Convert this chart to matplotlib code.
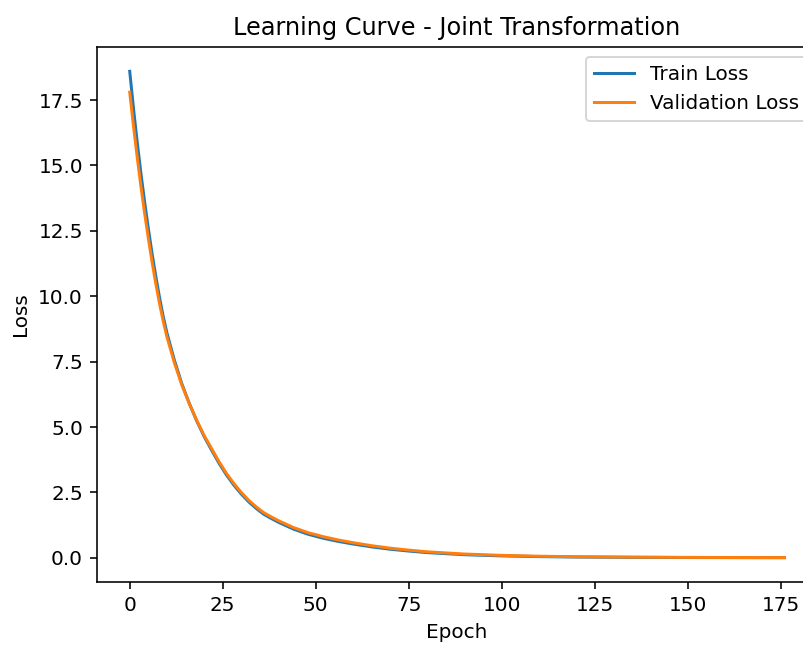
import numpy as np
import matplotlib
matplotlib.use("Agg")
import matplotlib.pyplot as plt

# Loss values (epoch -> loss)
epochs = [0, 1, 2, 3, 4, 5, 6, 7, 8, 9, 10, 12, 14, 16, 18, 20, 22, 24, 26, 28, 30,
          32, 34, 36, 38, 40, 44, 48, 52, 56, 60, 65, 70, 75, 80, 90, 100, 110,
          120, 135, 150, 165, 176]
train_loss = [18.60, 17.20, 15.91, 14.71, 13.61, 12.59, 11.64, 10.77, 9.96, 9.23, 8.60,
              7.56, 6.66, 5.91, 5.24, 4.64, 4.12, 3.62, 3.17, 2.78, 2.44, 2.14,
              1.89, 1.67, 1.51, 1.36, 1.10, 0.90, 0.75, 0.63, 0.53, 0.42, 0.33,
              0.26, 0.20, 0.12, 0.075, 0.047, 0.031, 0.019, 0.012, 0.008, 0.006]
val_loss = [17.80, 16.52, 15.33, 14.21, 13.18, 12.22, 11.32, 10.49, 9.73, 9.05, 8.45,
            7.46, 6.61, 5.90, 5.26, 4.68, 4.18, 3.68, 3.23, 2.84, 2.50, 2.20,
            1.95, 1.73, 1.57, 1.42, 1.16, 0.96, 0.81, 0.685, 0.58, 0.465, 0.37,
            0.295, 0.23, 0.145, 0.095, 0.062, 0.041, 0.027, 0.017, 0.012, 0.010]

dpi = 144
fig = plt.figure(figsize=(803 / dpi, 645 / dpi), dpi=dpi)
# axes run past the right edge, as in the cropped original
ax = fig.add_axes([97 / 803, 1 - 582 / 645, (817 - 97) / 803, (582 - 47) / 645])

ax.plot(epochs, train_loss, label='Train Loss')
ax.plot(epochs, val_loss, label='Validation Loss')
ax.set_title('Learning Curve - Joint Transformation')
ax.set_xlabel('Epoch')
ax.set_ylabel('Loss')
ax.legend()

fig.savefig('out.png', dpi=dpi)
